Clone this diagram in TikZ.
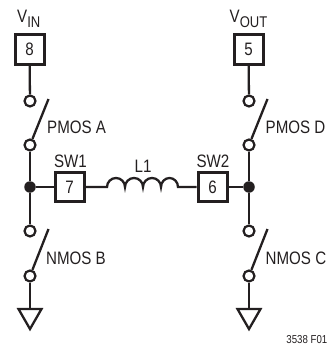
\documentclass[tikz,border=0pt]{standalone}
\usepackage{fontspec}
\setmainfont[FakeStretch=0.84]{Liberation Sans}
\definecolor{ink}{HTML}{231F20}
\tikzset{
  wire/.style={draw=ink,line width=2.3pt},
  pin/.style={draw=ink,line width=3pt,fill=white,minimum size=29pt,inner sep=0pt,text=ink,font=\fontsize{18}{19}\selectfont},
  term/.style={circle,draw=ink,line width=2.2pt,fill=white,minimum size=11pt,inner sep=0pt},
  junction/.style={circle,fill=ink,minimum size=11.5pt,inner sep=0pt},
  lbl/.style={text=ink,inner sep=0pt,font=\fontsize{18}{19}\selectfont},
  tiny/.style={text=ink,inner sep=0pt,font=\fontsize{11.5}{12}\selectfont}
}
\begin{document}
\begin{tikzpicture}[x=1pt,y=-1pt]
\useasboundingbox (0,0) rectangle (328,345);
% left leg
\node[pin] (p8) at (29.5,49.5) {8};
\node[term] (a1) at (30,101) {};
\node[term] (a2) at (30,145) {};
\node[junction] (j1) at (30,187) {};
\node[term] (b1) at (30,231) {};
\node[term] (b2) at (30,276) {};
\coordinate (g1) at (30,309);
\node[pin] (p7) at (69.5,187) {7};
% right leg
\node[pin] (p5) at (248.5,49.5) {5};
\node[term] (d1) at (249,101) {};
\node[term] (d2) at (249,145) {};
\node[junction] (j2) at (249,187) {};
\node[term] (c1) at (249,231) {};
\node[term] (c2) at (249,276) {};
\coordinate (g2) at (249,309);
\node[pin] (p6) at (212.5,187) {6};
% wires
\draw[wire] (p8) -- (a1);
\draw[wire] (a2) -- (j1) -- (b1);
\draw[wire] (b2) -- (g1);
\draw[wire] (p5) -- (d1);
\draw[wire] (d2) -- (j2) -- (c1);
\draw[wire] (c2) -- (g2);
\draw[wire] (j1) -- (p7);
\draw[wire] (j2) -- (p6);
% blades
\coordinate (ae) at (48.5,99);
\coordinate (de) at (267.5,99);
\coordinate (be) at (48.5,229);
\coordinate (ce) at (267.5,229);
\draw[wire] (a2) -- (ae);
\draw[wire] (d2) -- (de);
\draw[wire] (b2) -- (be);
\draw[wire] (c2) -- (ce);
% inductor
\coordinate (l0) at (107,187);
\coordinate (l1) at (178,187);
\draw[wire] (p7) -- (l0)
  arc[start angle=180,end angle=0,x radius=9,y radius=-9]
  arc[start angle=180,end angle=0,x radius=9,y radius=-9]
  arc[start angle=180,end angle=0,x radius=9,y radius=-9]
  arc[start angle=180,end angle=0,x radius=8.5,y radius=-9] -- (p6);
% grounds
\draw[wire,miter limit=10] (18.5,309) -- (41.5,309) -- (30,329) -- cycle;
\draw[wire,miter limit=10] (237.5,309) -- (260.5,309) -- (249,329) -- cycle;
% labels
\node[lbl,anchor=base west] at (17,23) {V\raisebox{-5pt}{\fontsize{15.5}{16}\selectfont IN}};
\node[lbl,anchor=base west] at (229.5,23) {V\raisebox{-5pt}{\fontsize{15.5}{16}\selectfont OUT}};
\node[lbl,anchor=base west] at (47,133) {PMOS A};
\node[lbl,anchor=base west] at (265.5,133) {PMOS D};
\node[lbl,anchor=base west] at (46,264) {NMOS B};
\node[lbl,anchor=base west] at (265.5,264) {NMOS C};
\node[lbl,anchor=base] at (70.5,167) {SW1};
\node[lbl,anchor=base] at (213,167) {SW2};
\node[lbl,anchor=base] at (143,172) {L1};
\node[tiny,anchor=base east] at (327.5,343) {3538 F01};
\end{tikzpicture}
\end{document}
